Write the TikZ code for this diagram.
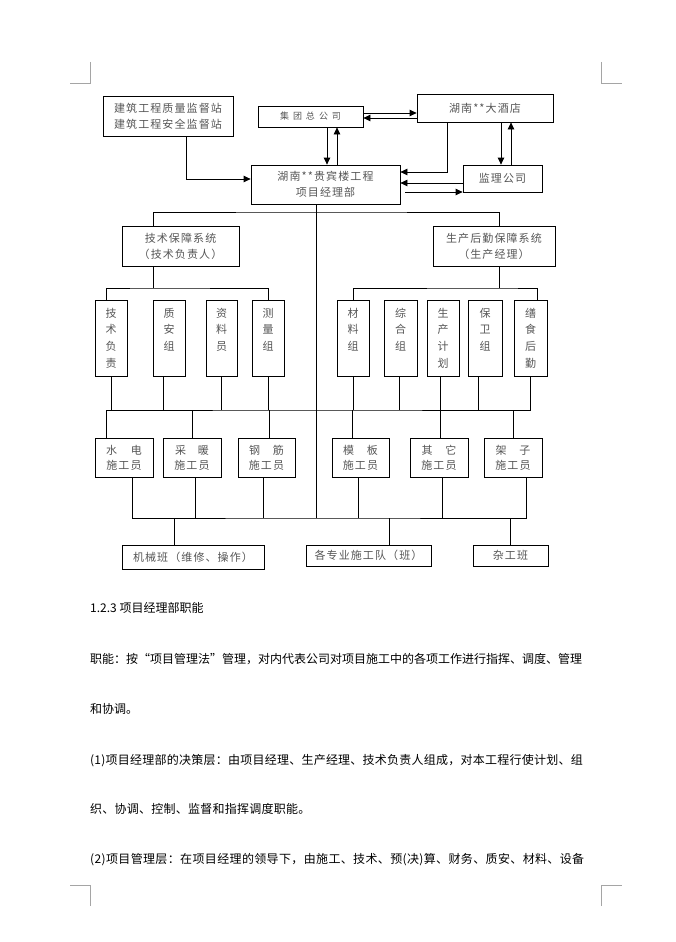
\documentclass[tikz,border=0pt]{standalone}
\usepackage{fontspec}
\setmainfont{Noto Sans CJK SC}
\newfontfamily\dfont[LetterSpace=10]{Noto Sans CJK SC}
\newfontfamily\bfont{Noto Sans CJK SC}
\newfontfamily\bfontb[LetterSpace=2]{Noto Sans CJK SC}
\newfontfamily\bfontc[LetterSpace=3]{Noto Sans CJK SC}
\usetikzlibrary{arrows.meta}
\definecolor{txtgray}{RGB}{85,85,85}
\definecolor{markgray}{RGB}{165,165,165}
\begin{document}
\begin{tikzpicture}[x=1pt,y=-1pt,
  ln/.style={line width=0.8pt},
  arr/.style={ln,-{Triangle[length=7pt,width=6.5pt]}},
  sz/.style 2 args={minimum width=#1,minimum height=#2},
  box/.style={draw,ln,inner sep=0pt,align=center,text=txtgray,
    font=\dfont\fontsize{11}{16}\selectfont},
  vbox/.style={box,sz={#1}{76pt},font=\dfont\fontsize{11}{16.7}\selectfont},
  wbox/.style={box,sz={#1}{39pt},font=\dfont\fontsize{11}{15}\selectfont},
  para/.style={anchor=base west,inner sep=0pt,font=\bfont\fontsize{12}{12}\selectfont},
  cornermark/.style={draw=markgray,line width=0.9pt}
]
\path[use as bounding box] (0,0) rectangle (676,942);

% corner marks
\draw[cornermark] (90,62) -- (90,83) -- (70,83);
\draw[cornermark] (601,62) -- (601,83) -- (622,83);
\draw[cornermark] (90,906) -- (90,885) -- (70,885);
\draw[cornermark] (601,906) -- (601,885) -- (622,885);

% top boxes
\node[box,sz={130pt}{40pt}] (jz) at (168,116) {建筑工程质量监督站\\建筑工程安全监督站};
\node[box,sz={105pt}{21pt},font=\dfont\fontsize{9}{10}\selectfont] (jt) at (310.5,116.5) {集\hspace{4pt}团\hspace{4pt}总\hspace{4pt}公\hspace{4pt}司};
\node[box,sz={149pt}{39pt}] (xm) at (325.5,184.5) {湖南**贵宾楼工程\\项目经理部};
\node[box,sz={136pt}{28pt}] (jd) at (485,108) {湖南**大酒店};
\node[box,sz={79pt}{27pt}] (jl) at (502.5,178.5) {监理公司};

% system boxes
\node[box,sz={117pt}{40pt}] (js) at (180.5,246) {技术保障系统\\（技术负责人）};
\node[box,sz={122pt}{40pt}] (sc) at (494,246) {生产后勤保障系统\\（生产经理）};

% vertical boxes
\node[vbox=32pt] (v1) at (111,338) {技\\术\\负\\责};
\node[vbox=32pt] (v2) at (169,338) {质\\安\\组\\\phantom{组}};
\node[vbox=31pt] (v3) at (221.5,338) {资\\料\\员\\\phantom{组}};
\node[vbox=32pt] (v4) at (268,338) {测\\量\\组\\\phantom{组}};
\node[vbox=32pt] (v5) at (353,338) {材\\料\\组\\\phantom{组}};
\node[vbox=33pt] (v6) at (400.5,338) {综\\合\\组\\\phantom{组}};
\node[vbox=32pt] (v7) at (443,338) {生\\产\\计\\划};
\node[vbox=34pt] (v8) at (485,338) {保\\卫\\组\\\phantom{组}};
\node[vbox=33pt] (v9) at (530.5,338) {缮\\食\\后\\勤};

% worker boxes
\node[wbox=58pt] (w1) at (124,457.5) {水\hspace{14pt}电\\施工员};
\node[wbox=58pt] (w2) at (192,457.5) {采\hspace{12pt}暖\\施工员};
\node[wbox=57pt] (w3) at (266.5,457.5) {钢\hspace{13pt}筋\\施工员};
\node[wbox=57pt] (w4) at (360.5,457.5) {模\hspace{13pt}板\\施工员};
\node[wbox=58pt] (w5) at (439,457.5) {其\hspace{13pt}它\\施工员};
\node[wbox=58pt] (w6) at (513,457.5) {架\hspace{13pt}子\\施工员};

% bottom boxes
\node[box,sz={142pt}{24pt}] (b1) at (193,557) {机械班（维修、操作）};
\node[box,sz={125pt}{21pt}] (b2) at (368.5,555.5) {各专业施工队（班）};
\node[box,sz={75pt}{21pt}] (b3) at (510.5,555.5) {杂工班};

% junction coordinates
\coordinate (t1) at (316.5,212);
\coordinate (t2) at (153,288);
\coordinate (t3) at (499,288);
\coordinate (m3) at (316.5,410);
\coordinate (m4) at (316.5,518);

% top arrows
\draw[arr] ([xshift=18pt]jz.south) |- ([yshift=5.5pt]xm.west);
\draw[arr] ([xshift=16.5pt]jt.south) -- ([xshift=16.5pt]jt.south |- xm.north);
\draw[arr] ([xshift=26.5pt]jt.south |- xm.north) -- ([xshift=26.5pt]jt.south);
\draw[arr] ([yshift=3.5pt]jt.east) -- ([yshift=3.5pt]jt.east -| jd.west);
\draw[arr] ([yshift=-1.5pt]jt.east -| jd.west) -- ([yshift=-1.5pt]jt.east);
\draw[arr] ([xshift=-38pt]jd.south) |- ([yshift=12.5pt]xm.east);
\draw[arr] ([xshift=16pt]jd.south) -- ([xshift=16pt]jd.south |- jl.north);
\draw[arr] ([xshift=26pt]jd.south |- jl.north) -- ([xshift=26pt]jd.south);
\draw[arr] ([yshift=-4.5pt]jl.west) -- ([yshift=-4.5pt]jl.west -| xm.east);
\draw[arr] ([xshift=5pt,yshift=-7.5pt]xm.east) -- ([yshift=-7.5pt]xm.east -| jl.west);

% trunk and first split
\draw[ln] ([xshift=-9pt]xm.south) -- ([xshift=-9pt]xm.south |- m4);
\draw[ln] ([xshift=-27.5pt]js.north) |- (t1) -| ([xshift=5pt]sc.north);

% system to vertical boxes
\draw[ln] ([xshift=-27.5pt]js.south) -- (t2);
\draw[ln] ([xshift=-5pt]v1.north) |- (t2) -| (v4.north);
\draw[ln] ([xshift=5pt]sc.south) -- (t3);
\draw[ln] (v5.north) |- (t3) -| ([xshift=6.5pt]v9.north);

% middle bar
\draw[ln] ([xshift=-18pt]w1.north) |- (m3) -| (v9.south);
\draw[ln] (v1.south) -- (v1.south |- m3);
\draw[ln] ([xshift=-6pt]v2.south) -- ([xshift=-6pt]v2.south |- m3);
\draw[ln] (v3.south) -- (v3.south |- m3);
\draw[ln] (v4.south) -- (v4.south |- m3);
\draw[ln] (v5.south) -- (v5.south |- m3);
\draw[ln] ([xshift=-1.5pt]v6.south) -- ([xshift=-1.5pt]v6.south |- m3);
\draw[ln] ([xshift=-3pt]v7.south) -- ([xshift=-3pt]v7.south |- m3);
\draw[ln] ([xshift=-7pt]v8.south) -- ([xshift=-7pt]v8.south |- m3);
\draw[ln] (w2.north) -- (w2.north |- m3);
\draw[ln] ([xshift=2.5pt]w3.north) -- ([xshift=2.5pt]w3.north |- m3);
\draw[ln] ([xshift=-8.5pt]w4.north) -- ([xshift=-8.5pt]w4.north |- m3);
\draw[ln] ([xshift=1pt]w5.north) -- ([xshift=1pt]w5.north |- m3);
\draw[ln] (w6.north) -- (w6.north |- m3);

% bottom bar
\draw[ln] ([xshift=8pt]w1.south) |- (m4) -| ([xshift=13pt]w6.south);
\draw[ln] ([xshift=3pt]w2.south) -- ([xshift=3pt]w2.south |- m4);
\draw[ln] ([xshift=-3.5pt]w3.south) -- ([xshift=-3.5pt]w3.south |- m4);
\draw[ln] ([xshift=-2.5pt]w4.south) -- ([xshift=-2.5pt]w4.south |- m4);
\draw[ln] ([xshift=3pt]w5.south) -- ([xshift=3pt]w5.south |- m4);
\draw[ln] ([xshift=-19pt]b1.north) -- ([xshift=-19pt]b1.north |- m4);
\draw[ln] ([xshift=20.5pt]b2.north) -- ([xshift=20.5pt]b2.north |- m4);
\draw[ln] (b3.north) -- (b3.north |- m4);

% body text
\node[para] (p1) at (90,612) {1.2.3 项目经理部职能};
\node[para] (p2) at (90,663) {职能：按“项目管理法”管理，对内代表公司对项目施工中的各项工作进行指挥、调度、管理};
\node[para] (p3) at (90,713) {和协调。};
\node[para,font=\bfontb\fontsize{12}{12}\selectfont] (p4) at (90,764) {(1)项目经理部的决策层：由项目经理、生产经理、技术负责人组成，对本工程行使计划、组};
\node[para,font=\bfontb\fontsize{12}{12}\selectfont] (p5) at (90,813) {织、协调、控制、监督和指挥调度职能。};
\node[para,font=\bfontc\fontsize{12}{12}\selectfont] (p6) at (90,863) {(2)项目管理层：在项目经理的领导下，由施工、技术、预(决)算、财务、质安、材料、设备};
\end{tikzpicture}
\end{document}
